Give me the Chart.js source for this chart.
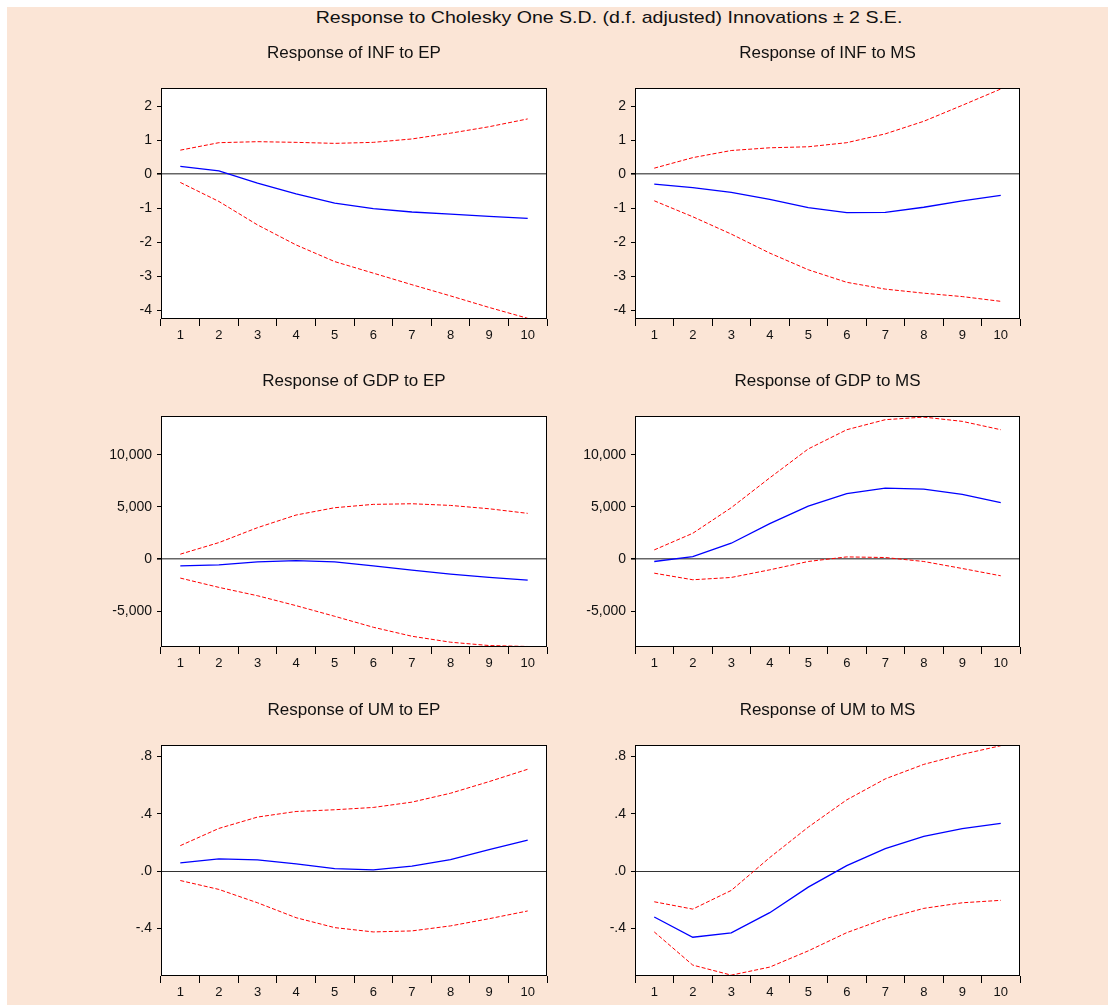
<!DOCTYPE html>
<html>
<head>
<meta charset="utf-8">
<script src="https://cdn.jsdelivr.net/npm/chart.js@4/dist/chart.umd.min.js"></script>
<style>
  html, body { margin: 0; padding: 0; background: #ffffff; }
  body { width: 1115px; height: 1005px; position: relative; overflow: hidden; font-family: 'Liberation Sans', Arial, sans-serif; }
  #bg { position: absolute; left: 7px; top: 7px; width: 1101px; height: 998px; background: #FBE5D6; }
  #mainTitle { position: absolute; left: 309px; width: 600px; top: 8px; line-height: 20px; font-size: 17px; text-align: center; color: #111; white-space: nowrap; transform: scaleX(1.15); transform-origin: 50% 50%; }
  canvas { position: absolute; }
</style>
</head>
<body>
<div id="bg"></div>
<div id="mainTitle">Response to Cholesky One S.D. (d.f. adjusted) Innovations ± 2 S.E.</div>
<canvas id="c0"></canvas><canvas id="c1"></canvas>
<canvas id="c2"></canvas><canvas id="c3"></canvas>
<canvas id="c4"></canvas><canvas id="c5"></canvas>
<script>
// ---------------- DATA ----------------
const periods = ['1','2','3','4','5','6','7','8','9','10'];

const panelTitles = [
  'Response of INF to EP', 'Response of INF to MS',
  'Response of GDP to EP', 'Response of GDP to MS',
  'Response of UM to EP',  'Response of UM to MS'
];

// INF to EP
const infEpResp  = [0.235, 0.10, -0.26, -0.58, -0.85, -1.01, -1.11, -1.17, -1.24, -1.30];
const infEpUpper = [0.71, 0.93, 0.96, 0.94, 0.91, 0.94, 1.04, 1.21, 1.40, 1.63];
const infEpLower = [-0.24, -0.80, -1.49, -2.08, -2.57, -2.91, -3.25, -3.58, -3.92, -4.24];

// INF to MS
const infMsResp  = [-0.29, -0.39, -0.53, -0.74, -0.98, -1.13, -1.12, -0.97, -0.78, -0.62];
const infMsUpper = [0.18, 0.49, 0.70, 0.78, 0.81, 0.93, 1.19, 1.56, 2.03, 2.51];
const infMsLower = [-0.78, -1.25, -1.76, -2.32, -2.81, -3.18, -3.38, -3.50, -3.60, -3.74];

// GDP to EP
const gdpEpResp  = [-640, -540, -250, -130, -250, -640, -1050, -1430, -1750, -2000];
const gdpEpUpper = [480, 1590, 3020, 4230, 4930, 5250, 5310, 5150, 4830, 4390];
const gdpEpLower = [-1810, -2700, -3500, -4450, -5470, -6520, -7380, -7950, -8270, -8360];

// GDP to MS
const gdpMsResp  = [-220, 250, 1530, 3400, 5090, 6270, 6800, 6710, 6200, 5410];
const gdpMsUpper = [890, 2480, 4930, 7790, 10560, 12400, 13360, 13610, 13200, 12400];
const gdpMsLower = [-1340, -1970, -1750, -1020, -220, 220, 160, -220, -890, -1590];

// UM to EP
const umEpResp  = [0.058, 0.086, 0.079, 0.051, 0.018, 0.009, 0.035, 0.081, 0.150, 0.217];
const umEpUpper = [0.178, 0.298, 0.377, 0.416, 0.428, 0.444, 0.481, 0.543, 0.624, 0.710];
const umEpLower = [-0.065, -0.127, -0.220, -0.324, -0.393, -0.423, -0.416, -0.381, -0.331, -0.277];

// UM to MS
const umMsResp  = [-0.319, -0.460, -0.430, -0.289, -0.111, 0.039, 0.157, 0.243, 0.296, 0.333];
const umMsUpper = [-0.213, -0.264, -0.134, 0.095, 0.307, 0.497, 0.643, 0.744, 0.814, 0.874];
const umMsLower = [-0.423, -0.654, -0.724, -0.668, -0.555, -0.428, -0.331, -0.259, -0.220, -0.203];

// Axis ranges and tick values (per row)
const infRange = [-4.26, 2.54];
const gdpRange = [-8410, 13714];
const umRange  = [-0.730, 0.879];
const infTicks = [-4, -3, -2, -1, 0, 1, 2];
const gdpTicks = [-5000, 0, 5000, 10000];
const umTicks  = [-0.4, 0, 0.4, 0.8];

// ---------------- FORMATTERS ----------------
const fmtInf = v => String(Math.round(v));
const fmtGdp = v => Math.round(v).toLocaleString('en-US');
const fmtUm  = v => v.toFixed(1).replace(/^(-?)0\./, '$1.');

// ---------------- LAYOUT ----------------
const FONT = "'Liberation Sans', Arial, sans-serif";
const Y_AXIS_W = 60, X_AXIS_H = 30, TOP_H = 52, RIGHT_PAD = 6;
const plotTops = [88, 416, 745];
const plotH = 231;
const plotLefts = [161, 635];
const plotWs = [386, 385];

const rows = [
  { range: infRange, ticks: infTicks, fmt: fmtInf, zero: '#666', zeroW: 1.6 },
  { range: gdpRange, ticks: gdpTicks, fmt: fmtGdp, zero: '#666', zeroW: 1.6 },
  { range: umRange,  ticks: umTicks,  fmt: fmtUm,  zero: '#333', zeroW: 1.0 }
];

const panelData = [
  [infEpResp, infEpUpper, infEpLower], [infMsResp, infMsUpper, infMsLower],
  [gdpEpResp, gdpEpUpper, gdpEpLower], [gdpMsResp, gdpMsUpper, gdpMsLower],
  [umEpResp,  umEpUpper,  umEpLower],  [umMsResp,  umMsUpper,  umMsLower]
];

const framePlugin = {
  id: 'frame',
  beforeDraw(chart) {
    const { ctx, chartArea: a } = chart;
    ctx.save();
    ctx.fillStyle = '#ffffff';
    ctx.fillRect(a.left, a.top, a.right - a.left, a.bottom - a.top);
    ctx.restore();
  },
  afterDraw(chart) {
    const { ctx, chartArea: a } = chart;
    ctx.save();
    ctx.strokeStyle = '#000';
    ctx.lineWidth = 1;
    const l = Math.round(a.left) + 0.5, r = Math.round(a.right) - 0.5;
    const t = Math.round(a.top) + 0.5, b = Math.round(a.bottom) - 0.5;
    ctx.strokeRect(l, t, r - l, b - t);
    ctx.restore();
  }
};

for (let i = 0; i < 6; i++) {
  const row = Math.floor(i / 2), col = i % 2;
  const cfgRow = rows[row];
  const cv = document.getElementById('c' + i);
  const w = Y_AXIS_W + plotWs[col] + RIGHT_PAD;
  const h = TOP_H + plotH + X_AXIS_H;
  cv.width = w; cv.height = h;
  cv.style.left = (plotLefts[col] - Y_AXIS_W) + 'px';
  cv.style.top = (plotTops[row] - TOP_H) + 'px';
  cv.style.width = w + 'px'; cv.style.height = h + 'px';

  const [resp, upper, lower] = panelData[i];
  new Chart(cv, {
    type: 'line',
    data: {
      labels: periods,
      datasets: [
        { data: upper, borderColor: '#FF0000', borderWidth: 1, borderDash: [4, 2], pointRadius: 0, tension: 0, fill: false },
        { data: lower, borderColor: '#FF0000', borderWidth: 1, borderDash: [4, 2], pointRadius: 0, tension: 0, fill: false },
        { data: resp,  borderColor: '#0000FF', borderWidth: 1.3, pointRadius: 0, tension: 0, fill: false }
      ]
    },
    options: {
      responsive: false,
      animation: false,
      devicePixelRatio: 1,
      layout: { padding: { left: 0, right: RIGHT_PAD, top: 0, bottom: 0 } },
      plugins: {
        legend: { display: false },
        tooltip: { enabled: false },
        title: {
          display: true,
          text: panelTitles[i],
          fullSize: false,
          color: '#111',
          font: { family: FONT, size: 17, weight: 'normal', lineHeight: 1.2 },
          padding: { top: 7.3, bottom: 24.3 }
        }
      },
      scales: {
        x: {
          type: 'category',
          offset: true,
          grid: { display: true, offset: true, drawOnChartArea: false, drawTicks: true, tickLength: 7, tickColor: '#000', lineWidth: 1 },
          border: { display: false },
          ticks: { color: '#111', font: { family: FONT, size: 13 }, padding: 2, autoSkip: false, maxRotation: 0, minRotation: 0 },
          afterFit(scale) { scale.height = X_AXIS_H; }
        },
        y: {
          type: 'linear',
          min: cfgRow.range[0],
          max: cfgRow.range[1],
          afterBuildTicks(scale) { scale.ticks = cfgRow.ticks.map(v => ({ value: v })); },
          grid: {
            display: true,
            drawOnChartArea: true,
            drawTicks: true,
            tickLength: 4,
            tickColor: '#000',
            color: ctx => (ctx.tick && Math.abs(ctx.tick.value) < 1e-9) ? cfgRow.zero : 'rgba(0,0,0,0)',
            lineWidth: ctx => (ctx.tick && Math.abs(ctx.tick.value) < 1e-9) ? cfgRow.zeroW : 1
          },
          border: { display: false },
          ticks: { color: '#111', font: { family: FONT, size: 14 }, padding: 5, callback: v => cfgRow.fmt(v) },
          afterFit(scale) { scale.width = Y_AXIS_W; }
        }
      }
    },
    plugins: [framePlugin]
  });
}
</script>
</body>
</html>
